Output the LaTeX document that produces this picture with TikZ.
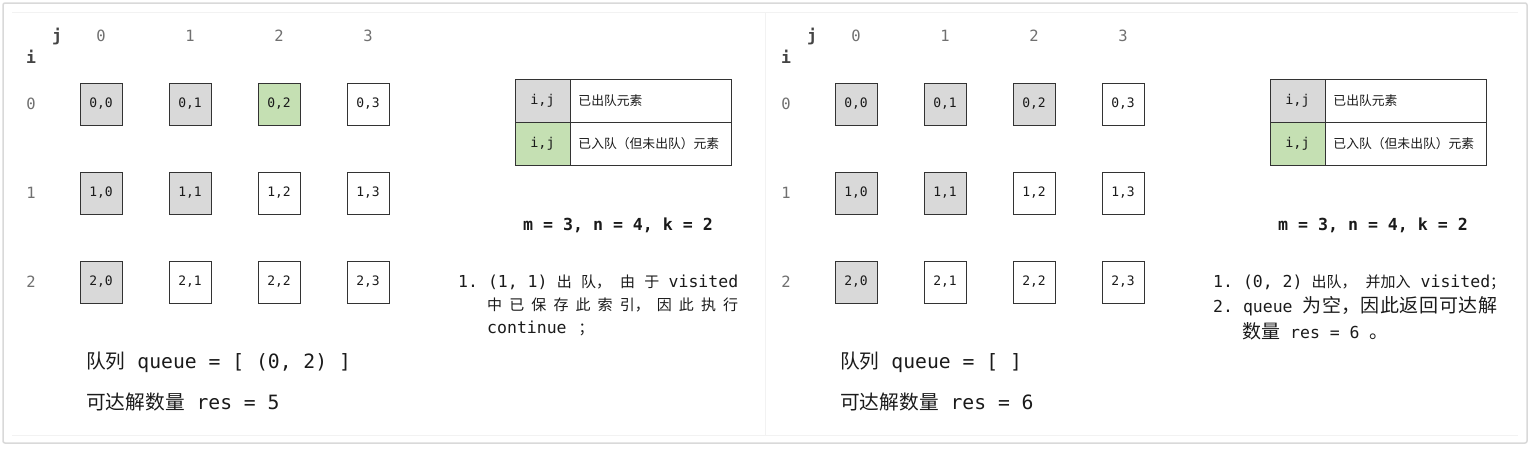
\documentclass[tikz,border=0pt]{standalone}
\usepackage{fontspec}
\setmonofont{DejaVu Sans Mono}
\newfontfamily\cjk{Noto Sans CJK SC}
\definecolor{cellgray}{HTML}{D9D9D9}
\definecolor{cellgreen}{HTML}{C5E0B3}
\definecolor{edge}{HTML}{333333}
\definecolor{lbl}{HTML}{707070}
\definecolor{ijcol}{HTML}{444444}
\definecolor{txt}{HTML}{1A1A1A}
\newcommand\fs[1]{\fontsize{#1}{#1}\selectfont}
\tikzset{
  cell/.style={draw=edge, line width=0.9pt, minimum width=42pt, minimum height=42pt, inner sep=0pt, font=\ttfamily\fs{13}, text=txt},
  hdr/.style={font=\ttfamily\fs{15.5}, text=lbl, inner sep=0pt},
  axis/.style={font=\ttfamily\bfseries\fs{16.5}, text=ijcol, inner sep=0pt},
  legkey/.style={draw=edge, line width=0.9pt, minimum width=55pt, minimum height=43pt, inner sep=0pt, font=\ttfamily\fs{13.5}, text=txt},
  legtxt/.style={draw=edge, line width=0.9pt, anchor=west, text width=145pt, inner xsep=8pt, minimum height=43pt, align=left, font=\cjk\fs{12.8}, text=txt},
  big/.style={anchor=west, inner sep=0pt, font=\ttfamily\fs{19.7}, text=txt},
  params/.style={inner sep=0pt, font=\ttfamily\bfseries\fs{16.6}, text=txt},
  expl/.style={anchor=west, inner sep=0pt, font=\ttfamily\fs{16.5}, text=txt},
}
\begin{document}
\begin{tikzpicture}[x=1pt,y=-1pt]
\useasboundingbox (0,0) rectangle (1532,448);
% frame
\draw[gray!30, line width=1.5pt, rounded corners=2pt] (3,3) rectangle (1527,443);
\draw[gray!10, line width=0.8pt] (12,12) -- (1518,12);
\draw[gray!10, line width=0.8pt] (12,435) -- (1518,435);
\draw[gray!10, line width=0.8pt] (765,12) -- (765,435);
% panels
\foreach \p/\ox/\fills in {L/0/{cellgray,cellgray,cellgreen,white,cellgray,cellgray,white,white,cellgray,white,white,white},
                           R/755/{cellgray,cellgray,cellgray,white,cellgray,cellgray,white,white,cellgray,white,white,white}}{
  \node[axis] (\p-j) at ({57+\ox},36) {j};
  \node[axis] (\p-i) at ({31+\ox},57) {i};
  \foreach \k in {0,1,2,3}{
    \node[hdr] (\p-c\k) at ({101+89*\k+\ox},36) {\k};
  }
  \foreach \k in {0,1,2}{
    \node[hdr] (\p-r\k) at ({31+\ox},{104+89*\k}) {\k};
  }
  \foreach \f [count=\n from 0] in \fills {
    \pgfmathtruncatemacro\r{div(\n,4)}
    \pgfmathtruncatemacro\c{mod(\n,4)}
    \node[cell, fill=\f] (\p-\r\c) at ({101+89*\c+\ox},{104+89*\r}) {\r,\c};
  }
  % legend
  \node[legkey, fill=cellgray] (\p-k1) at ({542.5+\ox},100.5) {i,j};
  \node[legkey, fill=cellgreen] (\p-k2) at ({542.5+\ox},143.5) {i,j};
  \node[legtxt] (\p-t1) at ({570+\ox},100.5) {已出队元素};
  \node[legtxt] (\p-t2) at ({570+\ox},143.5) {已入队（但未出队）元素};
  \node[params] (\p-m) at ({618+\ox},225) {m = 3, n = 4, k = 2};
}
% left panel texts
\node[big] (L-q) at (86,362) {{\cjk 队列} queue = [ (0, 2) ]};
\node[big] (L-res) at (86,402) {{\cjk 可达解数量} res = 5};
\node[expl] (L-e1) at (458,282) {\makebox[280pt][s]{1. (1, 1)\hfill{\cjk\fs{15}出\hfill 队，\hfill 由\hfill 于}\hfill visited}};
\node[expl] (L-e2) at (487,305) {\makebox[251pt][s]{\cjk\fs{15}中\hfill 已\hfill 保\hfill 存\hfill 此\hfill 索\hfill 引，\hfill 因\hfill 此\hfill 执\hfill 行}};
\node[expl] (L-e3) at (487,328) {continue\hspace{12pt}{\cjk\fs{15}；}};
% right panel texts
\node[big] (R-q) at (840,362) {{\cjk 队列} queue = [ ]};
\node[big] (R-res) at (840,402) {{\cjk 可达解数量} res = 6};
\node[expl] (R-e1) at (1213,282) {\makebox[292pt][s]{1. (0, 2)\hspace{9pt}{\cjk\fs{15}出队，\hspace{4pt}\hfill 并加入}\hspace{10pt}visited{\cjk\fs{15}；}}};
\node[expl] (R-e2) at (1213,306) {\makebox[284pt][s]{2. queue\hspace{10pt}{\cjk\fs{19}为\hfill 空，\hfill 因\hfill 此\hfill 返\hfill 回\hfill 可\hfill 达\hfill 解}}};
\node[expl] (R-e3) at (1242,331) {{\cjk\fs{19}数量} res = 6 {\cjk\fs{19}。}};
\end{tikzpicture}
\end{document}
